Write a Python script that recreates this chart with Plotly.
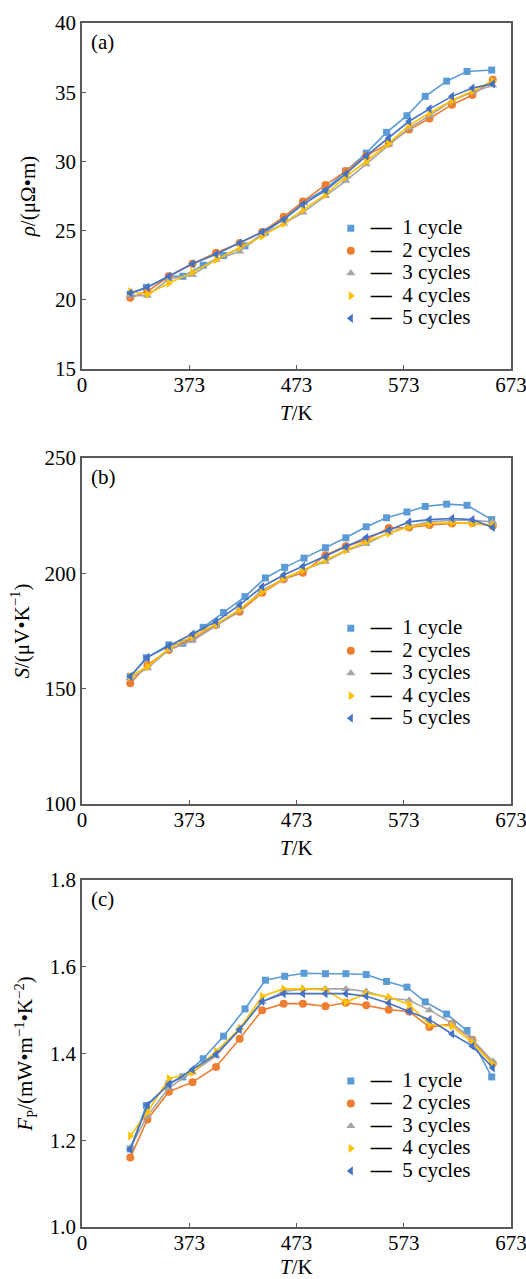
import plotly.graph_objects as go

# ---------------- data ----------------
T_1cycle = [318, 333, 354, 367, 386, 405, 425, 444, 462, 480, 500, 519, 538, 557, 576, 593, 613, 632, 655]
T_other = [318, 334, 354, 376, 398, 420, 441, 461, 479, 500, 519, 538, 559, 578, 597, 618, 637, 656]

series_names = ["1 cycle", "2 cycles", "3 cycles", "4 cycles", "5 cycles"]

rho_1 = [20.4, 20.9, 21.7, 21.7, 22.5, 23.2, 23.9, 24.9, 25.9, 27.1, 28.0, 29.3, 30.6, 32.1, 33.3, 34.7, 35.8, 36.5, 36.6]
rho_2 = [20.15, 20.6, 21.7, 22.6, 23.4, 24.1, 24.9, 26.0, 27.1, 28.3, 29.3, 30.4, 31.3, 32.3, 33.1, 34.1, 34.8, 35.9]
rho_3 = [20.3, 20.3, 21.5, 21.8, 22.9, 23.5, 24.7, 25.5, 26.3, 27.5, 28.6, 29.8, 31.2, 32.4, 33.3, 34.4, 35.0, 35.5]
rho_4 = [20.6, 20.4, 21.2, 22.0, 22.9, 23.8, 24.6, 25.5, 26.5, 27.6, 28.9, 30.0, 31.3, 32.6, 33.5, 34.4, 35.1, 35.8]
rho_5 = [20.5, 20.9, 21.7, 22.6, 23.3, 24.1, 24.9, 25.8, 26.9, 27.9, 29.1, 30.4, 31.7, 32.9, 33.8, 34.7, 35.3, 35.6]

S_1 = [155.3, 163.4, 169.0, 169.7, 176.6, 183.0, 189.9, 198.0, 202.6, 206.6, 211.1, 215.4, 220.2, 224.1, 226.6, 229.0, 230.0, 229.5, 223.3]
S_2 = [152.4, 160.3, 166.8, 171.6, 177.6, 183.4, 191.6, 197.4, 200.3, 207.9, 211.8, 214.4, 219.7, 219.9, 221.0, 221.6, 221.8, 220.5]
S_3 = [154.6, 158.9, 166.8, 170.8, 177.2, 184.0, 192.8, 197.4, 201.4, 205.0, 209.8, 212.7, 217.6, 220.4, 222.3, 223.0, 223.0, 222.3]
S_4 = [155.3, 159.6, 167.5, 172.6, 178.0, 184.4, 192.0, 197.8, 201.4, 205.7, 210.0, 213.7, 217.3, 220.2, 221.6, 221.9, 221.6, 220.9]
S_5 = [155.3, 163.6, 168.5, 173.7, 179.1, 186.3, 194.2, 199.3, 203.1, 207.2, 211.5, 215.5, 218.7, 222.3, 223.3, 223.8, 223.3, 219.9]

FP_1 = [1.18, 1.28, 1.33, 1.346, 1.388, 1.44, 1.503, 1.569, 1.578, 1.585, 1.584, 1.584, 1.582, 1.566, 1.553, 1.519, 1.491, 1.453, 1.346]
FP_2 = [1.16, 1.248, 1.312, 1.334, 1.369, 1.434, 1.50, 1.515, 1.515, 1.509, 1.517, 1.511, 1.501, 1.497, 1.461, 1.468, 1.432, 1.377]
FP_3 = [1.183, 1.256, 1.321, 1.357, 1.394, 1.459, 1.519, 1.543, 1.549, 1.549, 1.549, 1.543, 1.528, 1.523, 1.50, 1.47, 1.432, 1.382]
FP_4 = [1.21, 1.265, 1.342, 1.356, 1.405, 1.457, 1.532, 1.549, 1.549, 1.547, 1.518, 1.539, 1.53, 1.513, 1.467, 1.463, 1.425, 1.375]
FP_5 = [1.179, 1.281, 1.329, 1.363, 1.398, 1.455, 1.52, 1.538, 1.538, 1.538, 1.538, 1.532, 1.516, 1.497, 1.478, 1.445, 1.417, 1.367]

x_tickvals = [273, 373, 473, 573, 673]
x_ticktext = ["0", "373", "473", "573", "673"]
x_title = "<i>T</i>/K"

# ---------------- style ----------------
colors = ["#5B9BD5", "#ED7D31", "#A5A5A5", "#FFC000", "#4472C4"]
symbols = ["square", "circle", "triangle-up", "triangle-right", "triangle-left"]
msizes = [7, 8, 8, 8, 8]
FONT = "Liberation Serif"
FS = 21

panels = [
    dict(ys=[rho_1, rho_2, rho_3, rho_4, rho_5], yrange=[15, 40], dtick=5,
         ytitle="<i>ρ</i>/(μΩ•m)", label="(a)", dom=[0.7126, 1.0], leg_y=0.843, ystand=14, xt_shift=-44),
    dict(ys=[S_1, S_2, S_3, S_4, S_5], yrange=[100, 250], dtick=50,
         ytitle="<i>S</i>/(μV•K<sup>−1</sup>)", label="(b)", dom=[0.3513, 0.6387], leg_y=0.5108, ystand=9, xt_shift=-44),
    dict(ys=[FP_1, FP_2, FP_3, FP_4, FP_5], yrange=[1.0, 1.8], dtick=0.2,
         ytitle="<i>F</i><sub>P</sub>/(mW•m<sup>−1</sup>•K<sup>−2</sup>)", label="(c)", dom=[0.0, 0.2882], leg_y=0.1348, ystand=11, xt_shift=-40),
]

fig = go.Figure()
layout = dict(
    width=526, height=1279, autosize=False,
    margin=dict(l=82, r=15, t=23, b=52, autoexpand=False),
    paper_bgcolor="white", plot_bgcolor="white",
    font=dict(family=FONT, size=FS, color="black"),
    showlegend=True,
)

for p_i, p in enumerate(panels):
    n = "" if p_i == 0 else str(p_i + 1)
    xa, ya = "x" + n, "y" + n
    leg = "legend" + n
    for s_i in range(5):
        xs = T_1cycle if s_i == 0 else T_other
        fig.add_trace(go.Scatter(
            x=xs, y=p["ys"][s_i], mode="lines+markers", xaxis=xa, yaxis=ya,
            line=dict(color=colors[s_i], width=1.6),
            marker=dict(symbol=symbols[s_i], size=msizes[s_i], color=colors[s_i]),
            showlegend=False, name=series_names[s_i]))
    for s_i in range(5):
        fig.add_trace(go.Scatter(
            x=[None], y=[None], mode="markers", xaxis=xa, yaxis=ya,
            marker=dict(symbol=symbols[s_i], size=msizes[s_i], color=colors[s_i]),
            name="<span style='font-size:21px'><b>—</b>\u00a0\u00a0" + series_names[s_i] + "</span>",
            legend=leg, showlegend=True))
    layout["xaxis" + n] = dict(
        domain=[0, 1], anchor=ya, range=[273, 673], tickvals=x_tickvals, ticktext=x_ticktext,
        showline=True, mirror=True, linecolor="#595959", linewidth=1.5,
        ticks="inside", ticklen=4, tickcolor="#595959", showgrid=False, zeroline=False,
        automargin=False, ticklabeloverflow="allow", ticklabelstandoff=-4,
        tickfont=dict(family=FONT, size=FS, color="black"))
    layout["yaxis" + n] = dict(
        domain=p["dom"], anchor=xa, range=p["yrange"], dtick=p["dtick"],
        showline=True, mirror=True, linecolor="#595959", linewidth=1.5,
        ticks="inside", ticklen=4, tickcolor="#595959", showgrid=False, zeroline=False,
        automargin=False, ticklabeloverflow="allow",
        tickformat=".1f" if p_i == 2 else "d",
        tickfont=dict(family=FONT, size=FS, color="black"),
        title=dict(text=p["ytitle"], font=dict(family=FONT, size=FS, color="black"), standoff=p["ystand"]))
    layout[leg] = dict(
        x=0.58, y=p["leg_y"], xanchor="left", yanchor="top",
        font=dict(family=FONT, size=15, color="black"),
        bgcolor="rgba(0,0,0,0)", borderwidth=0, itemwidth=30, tracegroupgap=0)

fig.update_layout(**layout)

for p_i, p in enumerate(panels):
    n = "" if p_i == 0 else str(p_i + 1)
    fig.add_annotation(
        text=p["label"], xref=("x" + n + " domain"), yref=("y" + n + " domain"),
        x=0.016, y=0.985, xanchor="left", yanchor="top", showarrow=False,
        font=dict(family=FONT, size=FS, color="black"))
    fig.add_annotation(
        text=x_title, xref=("x" + n + " domain"), yref=("y" + n + " domain"),
        x=0.5, y=0, xanchor="center", yanchor="middle", yshift=p["xt_shift"], showarrow=False,
        font=dict(family=FONT, size=FS, color="black"))

fig.write_html("out.html", config={"displayModeBar": False},
               post_script="document.body.style.margin='0px';document.body.style.overflow='hidden';")
